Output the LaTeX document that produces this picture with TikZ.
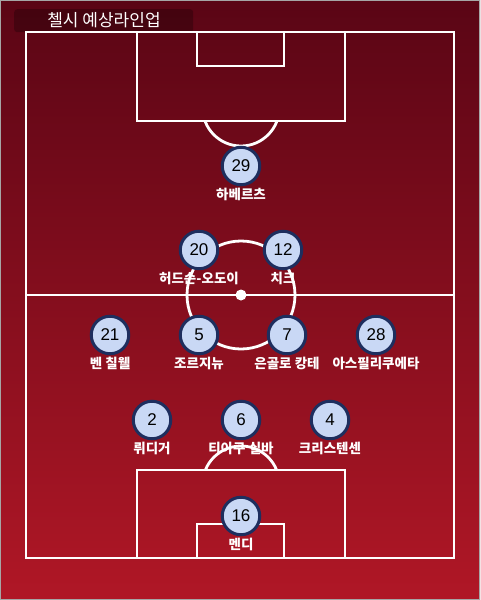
\documentclass[tikz,border=0pt]{standalone}
\usepackage{fontspec}
\setmainfont{Liberation Sans}
\newfontfamily\krfont{Noto Sans CJK KR}
\usetikzlibrary{positioning}
\definecolor{pitchtop}{HTML}{5A0515}
\definecolor{pitchbot}{HTML}{B01726}
\definecolor{shirtfill}{HTML}{C9D8F5}
\definecolor{shirtline}{HTML}{1E2E5E}
\tikzset{
  pitchline/.style={draw=white,line width=2.8pt},
  player/.style={circle,draw=shirtline,line width=3pt,fill=shirtfill,minimum size=37.5pt,inner sep=0pt,font=\fontsize{17}{17}\selectfont},
  pname/.style={text=white,inner sep=1pt,font=\krfont\bfseries\fontsize{13.5}{14}\selectfont}
}

\begin{document}
\begin{tikzpicture}[x=1pt,y=-1pt]
  % background
  \shade[top color=pitchtop,bottom color=pitchbot] (0,0) rectangle (480,600);
  \draw[gray!70,line width=1pt] (0.5,0.5) rectangle (479.5,599.5);
  \useasboundingbox (0,0) rectangle (480,600);
  % title
  \node (titlebox) [fill=black,fill opacity=0.25,rounded corners=3pt,minimum width=179pt,minimum height=23pt,anchor=north west] at (14,9) {};
  \node (title) [text=white,font=\krfont\fontsize{17}{17}\selectfont] at (104,20) {첼시 예상라인업};
  % pitch
  \draw[pitchline] (26,32) rectangle (454,558);
  \draw[pitchline] (26,295) -- (454,295);
  \draw[pitchline] (241,295) circle (54pt);
  \fill[white] (241,295) circle (5.5pt);
  \draw[pitchline] (137,32) rectangle (345,121);
  \draw[pitchline] (197,32) rectangle (284,66);
  \draw[pitchline] (137,470) rectangle (345,558);
  \draw[pitchline] (197,524) rectangle (284,558);
  \begin{scope}
    \clip (137,121) rectangle (345,200);
    \draw[pitchline] (241,107.6) circle (38.4pt);
  \end{scope}
  \begin{scope}
    \clip (137,400) rectangle (345,470);
    \draw[pitchline] (241,484.4) circle (38.4pt);
  \end{scope}
  % players
  \node (p29) [player] at (241,166) {29};
  \node (p20) [player] at (199,250) {20};
  \node (p12) [player] at (283,250) {12};
  \node (p21) [player] at (110,335) {21};
  \node (p5)  [player] at (199,335) {5};
  \node (p7)  [player] at (287,335) {7};
  \node (p28) [player] at (376,335) {28};
  \node (p2)  [player] at (152,420) {2};
  \node (p6)  [player] at (241,420) {6};
  \node (p4)  [player] at (330,420) {4};
  \node (p16) [player] at (241,516) {16};
  % names
  \node (n29) [pname,below=1pt of p29] {하베르츠};
  \node (n20) [pname,below=1pt of p20] {허드슨-오도이};
  \node (n12) [pname,below=1pt of p12] {치크};
  \node (n21) [pname,below=1pt of p21] {벤 칠웰};
  \node (n5)  [pname,below=1pt of p5]  {조르지뉴};
  \node (n7)  [pname,below=1pt of p7]  {은골로 캉테};
  \node (n28) [pname,below=1pt of p28] {아스필리쿠에타};
  \node (n2)  [pname,below=1pt of p2]  {뤼디거};
  \node (n6)  [pname,below=1pt of p6]  {티아구 실바};
  \node (n4)  [pname,below=1pt of p4]  {크리스텐센};
  \node (n16) [pname,below=1pt of p16] {멘디};
\end{tikzpicture}
\end{document}
